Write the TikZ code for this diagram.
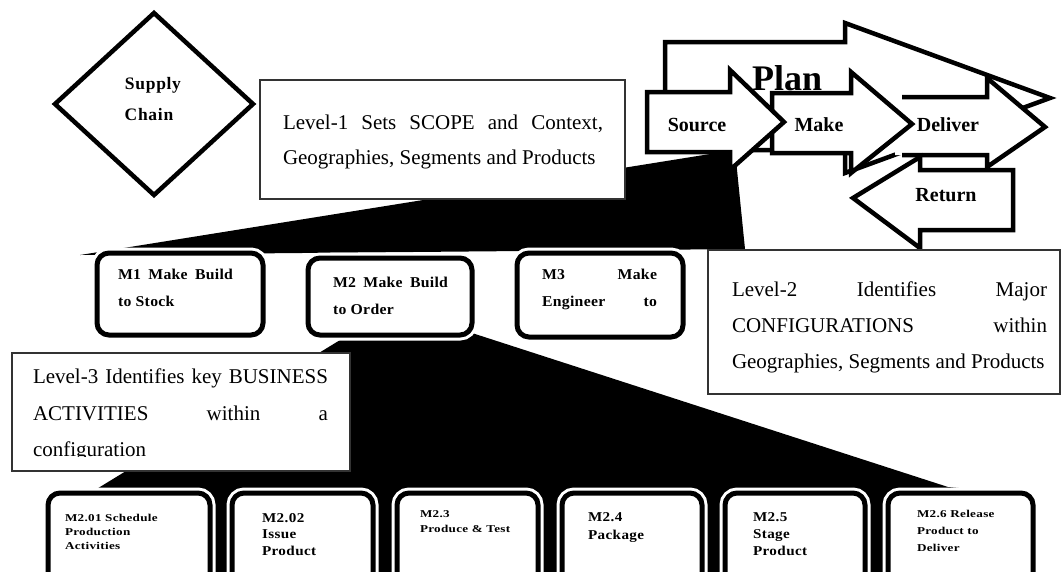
\documentclass[tikz,border=0pt]{standalone}
\usepackage{fontspec}
\setmainfont{Liberation Serif}
\usetikzlibrary{shapes.geometric}
\newcommand\fsz[1]{\fontsize{#1}{#1}\selectfont}
\newcommand\jline[2]{\makebox[#1][s]{#2}}
\begin{document}
\begin{tikzpicture}[x=1pt,y=-1pt,
  flow/.style={draw=black, fill=white, line width=4.5pt, line join=miter, miter limit=25},
  flowedge/.style={draw=black, line width=4.5pt, line join=miter, miter limit=25},
  note/.style={draw=black!80, fill=white, line width=1.5pt, rectangle, inner sep=0pt, outer sep=0pt, anchor=north west},
  stagebox/.style={draw=black, fill=white, line width=5pt, rounded corners=12pt, rectangle, inner sep=0pt, outer sep=0pt, anchor=north west, preaction={draw=white, line width=11pt}},
  stageline/.style={draw=black, fill=white, line width=5pt, preaction={draw=white, line width=11pt}},
  fan/.style={fill=black, draw=none},
  txt/.style={inner sep=0pt, outer sep=0pt, anchor=base west, font=\fsz{21}},
  flowtxt/.style={inner sep=0pt, outer sep=0pt, anchor=base, font=\bfseries\fsz{20}},
  mtxt/.style={inner sep=0pt, outer sep=0pt, anchor=base west, font=\bfseries\fsz{15}\addfontfeatures{FakeStretch=1.05, LetterSpace=2}},
  actsmall/.style={inner sep=0pt, outer sep=0pt, anchor=base west, font=\bfseries\fsz{10.5}\addfontfeatures{FakeStretch=1.25, LetterSpace=3}},
  actbig/.style={inner sep=0pt, outer sep=0pt, anchor=base west, font=\bfseries\fsz{13.5}\addfontfeatures{FakeStretch=1.12, LetterSpace=3}},
]
\useasboundingbox (0,0) rectangle (1062,571);
\clip (0,0) rectangle (1062,571);

% fan from the Source step down to the level-2 configurations
\coordinate (f1a) at (735,150);
\coordinate (f1b) at (745,249);
\coordinate (f1c) at (80,255);
\fill[fan] (f1a) -- (f1b) -- (f1c) -- cycle;

% fan from M2 down to its business activities
\coordinate (f2a) at (345,337);
\coordinate (f2b) at (472,333);
\coordinate (f2c) at (948,487);
\coordinate (f2d) at (1033,495);
\coordinate (f2e) at (1033,600);
\coordinate (f2f) at (48,600);
\coordinate (f2g) at (48,495);
\coordinate (f2h) at (95,490);
\fill[fan] (f2a) -- (f2b) -- (f2c) -- (f2d) -- (f2e) -- (f2f) -- (f2g) -- (f2h) -- cycle;

% Supply chain diamond
\node[diamond, draw=black, line width=4.5pt, fill=white, minimum width=198pt, minimum height=182pt, inner sep=0pt, outer sep=0pt] (sc) at (154,104) {};
\node[flowtxt, font=\bfseries\fsz{17.5}\addfontfeatures{LetterSpace=4}] (sc1) at (153,89) {Supply};
\node[flowtxt, font=\bfseries\fsz{17.5}\addfontfeatures{LetterSpace=4}] (sc2) at (149,120) {Chain};

% Plan arrow (behind the process steps)
\draw[flow] (665,150) -- (665,42) -- (845,42) -- (845,23) -- (1050,98) -- (845,173) -- (845,150) -- cycle;

% Deliver arrow (its tail is hidden under Make)
\fill[white] (895,97) -- (987,97) -- (987,78) -- (1045,127) -- (987,167) -- (987,155) -- (895,155) -- cycle;
\draw[flowedge] (902,97) -- (987,97) -- (987,78) -- (1045,127) -- (987,167) -- (987,155) -- (902,155);
\node[flowtxt] (deliver) at (948,131) {Deliver};

% Make arrow
\draw[flow] (772,93) -- (851,93) -- (851,72) -- (912,124) -- (851,173) -- (851,153) -- (772,153) -- cycle;
\node[flowtxt] (make) at (819,131) {Make};

% Source arrow
\draw[flow] (647,92) -- (730,92) -- (730,70) -- (784,122) -- (730,170) -- (730,152) -- (647,152) -- cycle;
\node[flowtxt] (source) at (697,131) {Source};

% Return arrow
\draw[flow] (853,198) -- (920,157) -- (920,170) -- (1013,170) -- (1013,230) -- (920,230) -- (920,248) -- cycle;
\node[flowtxt] (return) at (946,201) {Return};

% Plan label sits over the step arrows
\node[flowtxt, font=\bfseries\fsz{36}] (plan) at (787,90) {Plan};

% Level-1 note
\node[note, minimum width=365pt, minimum height=119pt] (lvl1) at (260,80) {};
\node[txt] (lvl1a) at (283,129) {\jline{320pt}{Level-1 Sets SCOPE and Context,}};
\node[txt] (lvl1b) at (283,164) {Geographies, Segments and Products};

% Level-2 configurations
\node[stagebox, minimum width=166pt, minimum height=82pt] (m1) at (97,253) {};
\node[mtxt] (m1a) at (118,279) {\jline{115pt}{M1 Make Build}};
\node[mtxt] (m1b) at (118,306) {to Stock};

\node[inner sep=0pt, outer sep=0pt, minimum width=164pt, minimum height=77pt, anchor=north west] (m2) at (308,258) {};
\draw[stageline] (m2.south east) [rounded corners=12pt] -- (m2.north east) -- (m2.north west) -- (m2.south west) -- cycle;
\node[mtxt] (m2a) at (333,287) {\jline{115pt}{M2 Make Build}};
\node[mtxt] (m2b) at (333,314) {to Order};

\node[stagebox, minimum width=166pt, minimum height=84pt] (m3) at (517,253) {};
\node[mtxt] (m3a) at (542,279) {\jline{115pt}{M3 Make}};
\node[mtxt] (m3b) at (542,306) {\jline{115pt}{Engineer to}};

% Level-2 note
\node[note, minimum width=352pt, minimum height=144pt] (lvl2) at (708,250) {};
\node[txt] (lvl2a) at (732,296) {\jline{315pt}{Level-2 Identifies Major}};
\node[txt] (lvl2b) at (732,332) {\jline{315pt}{CONFIGURATIONS within}};
\node[txt] (lvl2c) at (732,368) {Geographies, Segments and Products};

% Level-3 note (last line cut by the text frame)
\node[note, minimum width=338pt, minimum height=118pt] (lvl3) at (12,353) {};
\node[txt] (lvl3a) at (33,383) {\jline{295pt}{Level-3 Identifies key BUSINESS}};
\node[txt] (lvl3b) at (33,420) {\jline{295pt}{ACTIVITIES within a}};
\begin{scope}
  \clip (12,353) rectangle (350,456.5);
  \node[txt] (lvl3c) at (33,456) {configuration};
\end{scope}

% Level-3 business activities
\node[stagebox, minimum width=162pt, minimum height=110pt] (b1) at (48,493) {};
\node[actsmall] (b1a) at (65,521) {M2.01 Schedule};
\node[actsmall] (b1b) at (65,535) {Production};
\node[actsmall] (b1c) at (65,549) {Activities};

\node[stagebox, minimum width=141pt, minimum height=110pt] (b2) at (232,493) {};
\node[actbig] (b2a) at (262,522) {M2.02};
\node[actbig] (b2b) at (262,538) {Issue};
\node[actbig] (b2c) at (262,555) {Product};

\node[stagebox, minimum width=141pt, minimum height=110pt] (b3) at (397,493) {};
\node[actsmall] (b3a) at (420,517) {M2.3};
\node[actsmall] (b3b) at (420,532) {Produce \& Test};

\node[stagebox, minimum width=140pt, minimum height=110pt] (b4) at (562,493) {};
\node[actbig] (b4a) at (588,521) {M2.4};
\node[actbig] (b4b) at (588,539) {Package};

\node[stagebox, minimum width=140pt, minimum height=110pt] (b5) at (725,493) {};
\node[actbig] (b5a) at (753,521) {M2.5};
\node[actbig] (b5b) at (753,538) {Stage};
\node[actbig] (b5c) at (753,555) {Product};

\node[stagebox, minimum width=145pt, minimum height=110pt] (b6) at (888,493) {};
\node[actsmall] (b6a) at (917,517) {M2.6 Release};
\node[actsmall] (b6b) at (917,534) {Product to};
\node[actsmall] (b6c) at (917,551) {Deliver};
\end{tikzpicture}
\end{document}
